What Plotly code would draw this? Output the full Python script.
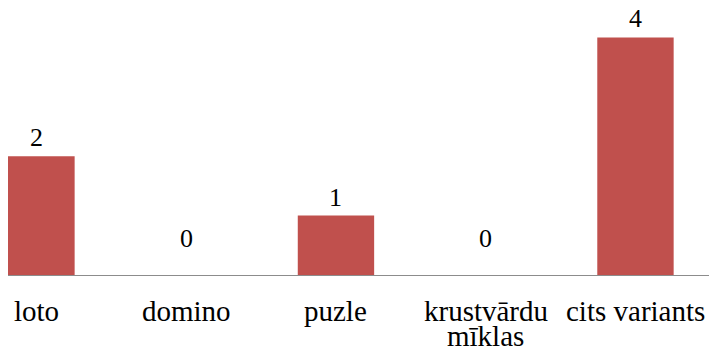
import plotly.graph_objects as go

# Survey answers: count of respondents per preferred game
categories = ["loto", "domino", "puzle", "krustvārdu mīklas", "cits variants"]
label_lines = [["loto"], ["domino"], ["puzle"], ["krustvārdu", "mīklas"], ["cits variants"]]
counts = [2, 0, 1, 0, 4]

bar_color = "#C0504D"
serif = "Liberation Serif"

fig = go.Figure(
    go.Bar(
        x=categories,
        y=counts,
        width=0.51,
        marker=dict(color=bar_color, line=dict(width=0)),
        hoverinfo="skip",
    )
)

# Value labels above each bar; zero values sit a little higher above the axis
for cat, val in zip(categories, counts):
    fig.add_annotation(
        x=cat,
        y=val,
        text=str(val),
        showarrow=False,
        yanchor="bottom",
        yshift=20 if val == 0 else 2,
        font=dict(family=serif, size=26),
    )

# Category labels under the axis, wrapped lines set with a tight line spacing
for cat, lines in zip(categories, label_lines):
    for i, line in enumerate(lines):
        fig.add_annotation(
            x=cat,
            y=0,
            yref="paper",
            text=line,
            showarrow=False,
            yanchor="top",
            yshift=-18 - 25 * i,
            font=dict(family=serif, size=29),
        )

fig.update_layout(
    width=709,
    height=349,
    margin=dict(l=8, r=0, t=0, b=74),
    paper_bgcolor="white",
    plot_bgcolor="white",
    font=dict(family=serif, color="#000000"),
    showlegend=False,
    xaxis=dict(
        range=[-0.19, 4.491],
        automargin=False,
        showline=True,
        linecolor="#8C8C8C",
        linewidth=1,
        showgrid=False,
        zeroline=False,
        ticks="",
        showticklabels=False,
    ),
    yaxis=dict(
        range=[0, 4.63],
        automargin=False,
        visible=False,
        showgrid=False,
        zeroline=False,
    ),
)

fig.write_html("out.html")
